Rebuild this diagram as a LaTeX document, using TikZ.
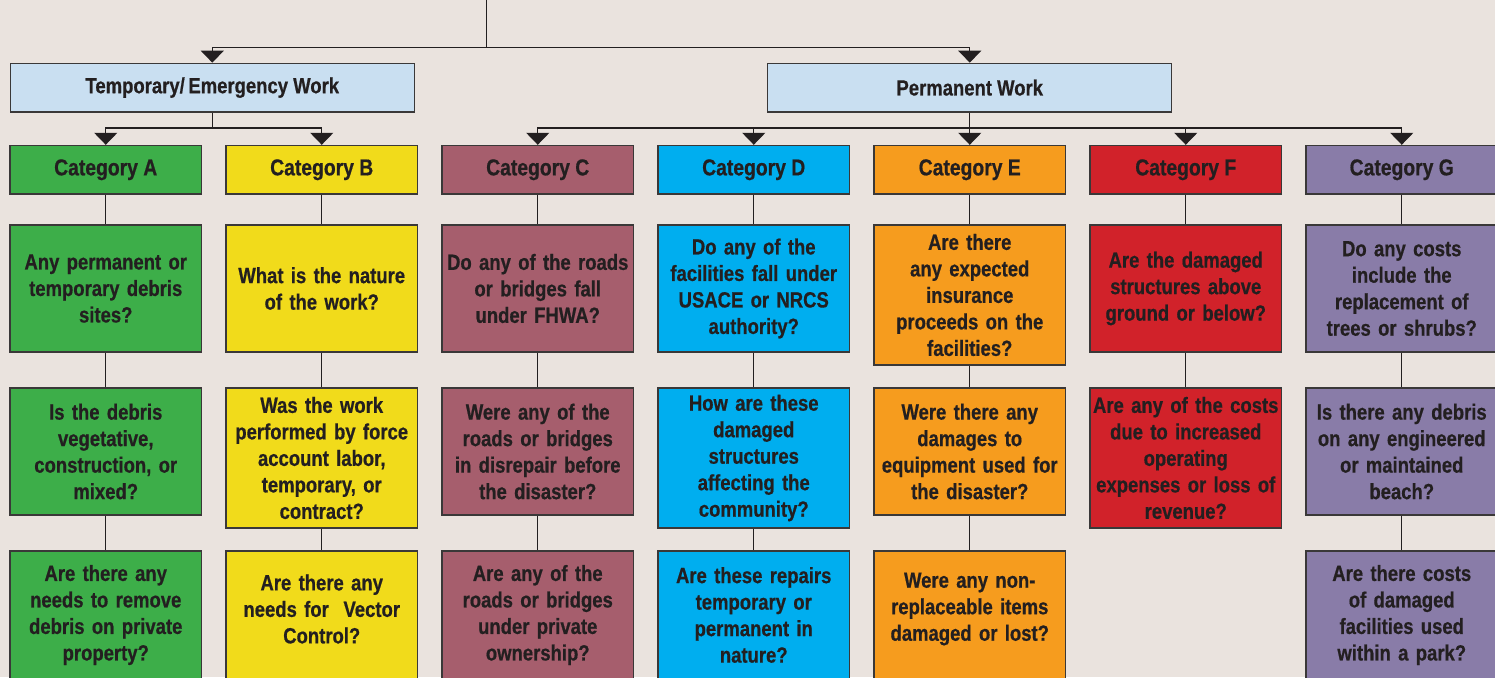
\documentclass[tikz,border=0pt]{standalone}
\usepackage{fontspec}
\setmainfont{Liberation Sans}[FakeStretch=0.84, BoldFeatures={FakeBold=0.6}]
\usetikzlibrary{arrows.meta}
\definecolor{bgc}{HTML}{EAE3DE}
\definecolor{hdr}{HTML}{C9DFF1}
\definecolor{cA}{HTML}{3DAE49}
\definecolor{cB}{HTML}{F1DB1B}
\definecolor{cC}{HTML}{A65E6D}
\definecolor{cD}{HTML}{00AEEF}
\definecolor{cE}{HTML}{F69C1E}
\definecolor{cF}{HTML}{D1222A}
\definecolor{cG}{HTML}{897CA8}
\definecolor{ink}{HTML}{231F20}
\definecolor{edge}{HTML}{3A3838}
\tikzset{
  box/.style={draw=edge, line width=1.4pt, rectangle, inner sep=2pt, text=ink, align=center, font=\bfseries},
  hdrbox/.style={box, fill=hdr, minimum width=404pt, minimum height=48.5pt, font=\bfseries\fontsize{22}{26}\selectfont},
  catbox/.style={box, minimum width=191.5pt, minimum height=48.5pt, font=\bfseries\fontsize{23}{27}\selectfont},
  qbox/.style={box, minimum width=191.5pt, text width=186pt, font=\bfseries\fontsize{22}{26.5}\selectfont},
  conn/.style={draw=ink, line width=1.3pt},
  arr/.style={conn, -{Triangle[width=23pt,length=12pt]}}
}
\begin{document}
\begin{tikzpicture}[x=1pt,y=-1pt]
\fill[bgc] (0,0) rectangle (1495,677);
\useasboundingbox (0,0) rectangle (1495,677);
\clip (0,0) rectangle (1495,677);
% headers
\node[hdrbox] (temp) at (212.3,87.6) {Temporary/\,Emergency Work\rule[-1pt]{0pt}{1pt}};
\node[hdrbox] (perm) at (969.75,87.6) {Permanent Work};
% categories
\node[catbox, fill=cA] (cata) at (105.75,169.75) {Category A};
\node[catbox, fill=cB] (catb) at (321.75,169.75) {Category B};
\node[catbox, fill=cC] (catc) at (537.75,169.75) {Category C};
\node[catbox, fill=cD] (catd) at (753.75,169.75) {Category D};
\node[catbox, fill=cE] (cate) at (969.75,169.75) {Category E};
\node[catbox, fill=cF] (catf) at (1185.75,169.75) {Category F};
\node[catbox, fill=cG] (catg) at (1401.75,169.75) {Category G};
% row 2
\node[qbox, fill=cA, minimum height=127pt] (a2) at (105.75,288.5) {Any permanent or\\temporary debris\\sites?};
\node[qbox, fill=cB, minimum height=127pt] (b2) at (321.75,288.5) {What is the nature\\of the work?};
\node[qbox, fill=cC, minimum height=127pt] (c2) at (537.75,288.5) {Do any of the roads\\or bridges fall\\under FHWA?};
\node[qbox, fill=cD, minimum height=127pt] (d2) at (753.75,288.5) {Do any of the\\facilities fall under\\USACE or NRCS\\authority?};
\node[qbox, fill=cE, minimum height=140pt] (e2) at (969.75,295) {Are there\\any expected\\insurance\\proceeds on the\\facilities?};
\node[qbox, fill=cF, minimum height=127pt] (f2) at (1185.75,288.5) {Are the damaged\\structures above\\ground or below?};
\node[qbox, fill=cG, minimum height=127pt] (g2) at (1401.75,288.5) {Do any costs\\include the\\replacement of\\trees or shrubs?};
% row 3
\node[qbox, fill=cA, minimum height=127pt] (a3) at (105.75,451.5) {Is the debris\\vegetative,\\construction, or\\mixed?};
\node[qbox, fill=cB, minimum height=140pt] (b3) at (321.75,458) {Was the work\\performed by force\\account labor,\\temporary, or\\contract?};
\node[qbox, fill=cC, minimum height=127pt] (c3) at (537.75,451.5) {Were any of the\\roads or bridges\\in disrepair before\\the disaster?};
\node[qbox, fill=cD, minimum height=140pt] (d3) at (753.75,458) {How are these\\damaged\\structures\\affecting the\\community?};
\node[qbox, fill=cE, minimum height=127pt] (e3) at (969.75,451.5) {Were there any\\damages to\\equipment used for\\the disaster?};
\node[qbox, fill=cF, minimum height=140pt] (f3) at (1185.75,458) {Are any of the costs\\due to increased\\operating\\expenses or loss of\\revenue?};
\node[qbox, fill=cG, minimum height=127pt] (g3) at (1401.75,451.5) {Is there any debris\\on any engineered\\or maintained\\beach?};
% row 4
\node[qbox, fill=cA, minimum height=128pt] (a4) at (105.75,615) {Are there any\\needs to remove\\debris on private\\property?};
\node[qbox, fill=cB, minimum height=128pt] (b4) at (321.75,615) {Are there any\\needs for\ \ Vector\\Control?\par\vspace*{12pt}};
\node[qbox, fill=cC, minimum height=128pt] (c4) at (537.75,615) {Are any of the\\roads or bridges\\under private\\ownership?};
\node[qbox, fill=cD, minimum height=128pt] (d4) at (753.75,615) {Are these repairs\\temporary or\\permanent in\\nature?};
\node[qbox, fill=cE, minimum height=128pt] (e4) at (969.75,615) {Were any non-\\replaceable items\\damaged or lost?\par\vspace*{12pt}};
\node[qbox, fill=cG, minimum height=128pt] (g4) at (1401.75,615) {Are there costs\\of damaged\\facilities used\\within a park?};
% connectors
\coordinate (top) at (486.7,0);
\coordinate (j1) at (486.7,47.5);
\coordinate (j2) at (213.3,128);
\coordinate (j3) at (969.75,128);
\draw[conn] (top) -- (j1);
\draw[arr] (j1) -| (temp.north);
\draw[arr] (j1) -| (perm.north);
\draw[conn] (temp.south) |- (j2);
\draw[arr] (j2) -| (cata.north);
\draw[arr] (j2) -| (catb.north);
\draw[conn] (perm.south) -- (j3);
\draw[arr] (j3) -| (catc.north);
\draw[arr] (j3) -| (catd.north);
\draw[arr] (j3) -- (cate.north);
\draw[arr] (j3) -| (catf.north);
\draw[arr] (j3) -| (catg.north);
\foreach \c in {a,b,c,d,e,f,g}{
  \draw[conn] (cat\c.south) -- (\c2.north);
  \draw[conn] (\c2.south) -- (\c3.north);
}
\foreach \c in {a,b,c,d,e,g}{
  \draw[conn] (\c3.south) -- (\c4.north);
}
\end{tikzpicture}
\end{document}
